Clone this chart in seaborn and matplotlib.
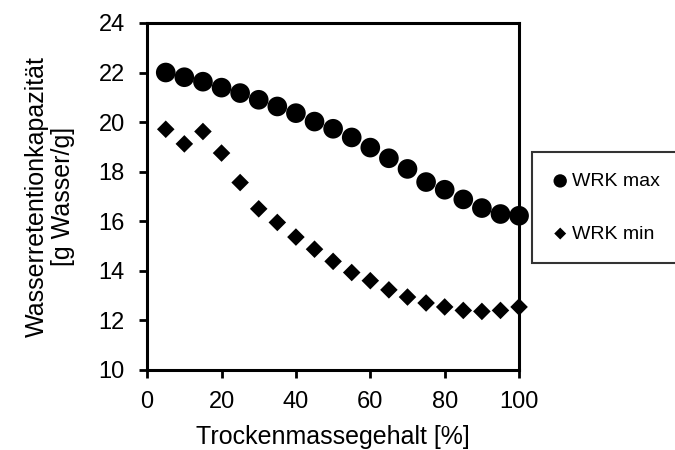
import matplotlib
matplotlib.use("Agg")
import matplotlib.pyplot as plt
import seaborn as sns
import pandas as pd

# Trockenmassegehalt [%]
tm = [5, 10, 15, 20, 25, 30, 35, 40, 45, 50, 55, 60, 65, 70, 75, 80, 85, 90, 95, 100]
# WRK max / min [g Wasser/g]
wrk_max = [22.00, 21.81, 21.63, 21.39, 21.17, 20.90, 20.63, 20.36, 20.02, 19.73,
           19.38, 18.97, 18.54, 18.11, 17.58, 17.27, 16.88, 16.53, 16.29, 16.22]
wrk_min = [19.71, 19.12, 19.62, 18.75, 17.56, 16.50, 15.95, 15.36, 14.87, 14.38,
           13.93, 13.60, 13.23, 12.94, 12.70, 12.54, 12.40, 12.36, 12.40, 12.54]

df = pd.DataFrame({"tm": tm, "max": wrk_max, "min": wrk_min})

sns.set_style("ticks", {"text.color": "black", "axes.labelcolor": "black",
                        "xtick.color": "black", "ytick.color": "black"})
plt.rcParams["font.family"] = ["Liberation Sans", "DejaVu Sans"]

fig = plt.figure(figsize=(6.75, 4.5), dpi=100)
ax = fig.add_axes([0.218, 0.178, 0.551, 0.771])

sns.scatterplot(data=df, x="tm", y="max", marker="o", s=200, color="black",
                edgecolor="none", label="WRK max", ax=ax, clip_on=False, zorder=3)
sns.scatterplot(data=df, x="tm", y="min", marker="D", s=80, color="black",
                edgecolor="none", label="WRK min", ax=ax, clip_on=False, zorder=3)

ax.set_xlim(0, 100)
ax.set_ylim(10, 24)
ax.set_xticks(range(0, 101, 20))
ax.set_yticks(range(10, 25, 2))
ax.tick_params(direction="out", length=6, width=2, labelsize=17, colors="black")
ax.tick_params(axis="x", pad=9)
ax.tick_params(axis="y", pad=10)
for sp in ax.spines.values():
    sp.set_visible(True)
    sp.set_linewidth(2.2)
    sp.set_color("black")

ax.set_xlabel("Trockenmassegehalt [%]", fontsize=18, labelpad=9, color="black")
ax.set_ylabel("Wasserretentionkapazität\n[g Wasser/g]", fontsize=18, labelpad=17,
              linespacing=1.1, color="black")

# legend box runs off the right edge like in the original
leg = ax.legend(loc="upper left", bbox_to_anchor=(532 / 675, 1 - 152 / 450, 0.3, 0.0),
                bbox_transform=fig.transFigure, mode="expand", frameon=True,
                fancybox=False, fontsize=14, markerscale=0.68, handletextpad=0.2,
                labelspacing=1.8, borderpad=1.05, handlelength=0.8, borderaxespad=0)
leg.get_frame().set_edgecolor("black")
leg.get_frame().set_linewidth(1.5)
for t in leg.get_texts():
    t.set_color("black")

fig.savefig("out.png", dpi=100)
